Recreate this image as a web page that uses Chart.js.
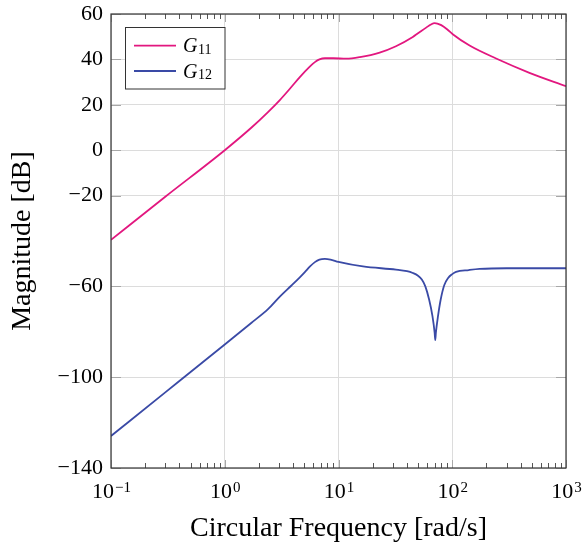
<!DOCTYPE html>
<html>
<head>
<meta charset="utf-8">
<script src="https://cdn.jsdelivr.net/npm/chart.js@4.4.1/dist/chart.umd.min.js"></script>
<style>
  html, body { margin: 0; padding: 0; background: #fff; }
  #wrap { width: 585px; height: 547px; }
</style>
</head>
<body>
<div id="wrap"><canvas id="bode" width="585" height="547"></canvas></div>
<script>
// magnitude, frequency in rad/s
const g11Freq = [0.1, 0.3, 1, 1.72, 2.4, 3.05, 3.8, 4.57, 5.59, 6.2, 6.8, 7.6, 9, 11.7, 15.4, 23, 32, 45, 59, 65, 70, 74, 80, 90, 101, 142, 243, 477, 1000];
const g11Mag  = [-39.5, -20.5, 0, 10, 16.8, 22.1, 27.5, 32.2, 36.8, 38.8, 40, 40.5, 40.5, 40.3, 41, 43, 45.8, 49.9, 54, 55.4, 56, 55.8, 55.1, 53.3, 51.1, 46.1, 40.4, 34.1, 28.2];

const g12Freq = [0.1, 0.3, 1, 1.72, 2.4, 3.05, 3.86, 4.57, 5.06, 5.59, 6.2, 6.8, 7.6, 8.5, 10, 16.4, 32, 40, 45, 50, 54, 58, 62.6, 67, 70, 70.9, 71.8, 75, 79, 85, 92, 100, 108, 140, 174, 300, 1000];
const g12Mag  = [-125.9, -106.7, -85.6, -76, -70, -64.5, -59.6, -56, -53.7, -51.3, -49.3, -48.2, -47.9, -48.2, -49.2, -51.2, -52.6, -53.3, -54.1, -55.3, -57, -60, -65.8, -73.1, -80.4, -83.7, -80.4, -73, -66, -59.5, -56.3, -54.6, -53.6, -52.8, -52.3, -52, -52];

const xMajor = [0.1, 1, 10, 100, 1000];
const xExp = ['−1', '0', '1', '2', '3'];
const yTicks = [60, 40, 20, 0, -20, -60, -100, -140];

const seriesNames = ['G', 'G'];
const seriesSubs = ['11', '12'];
const seriesColors = ['#e2177f', '#3a4aa6'];

const serif = "'Liberation Serif', 'Times New Roman', serif";

function pts(xs, ys) {
    return xs.map(function (x, i) { return { x: x, y: ys[i] }; });
}

// frame, minor ticks, x labels with superscripts, legend box
const decor = {
    id: 'decor',
    afterDatasetsDraw(chart) {
        const ctx = chart.ctx;
        const a = chart.chartArea;
        const xs = chart.scales.x;
        const ys = chart.scales.y;
        ctx.save();

        // y tick marks, both sides
        ctx.strokeStyle = '#a8a8a8';
        ctx.lineWidth = 1;
        yTicks.forEach(function (v) {
            const py = Math.round(ys.getPixelForValue(v)) + 0.5;
            ctx.beginPath();
            ctx.moveTo(a.left, py); ctx.lineTo(a.left + 10, py);
            ctx.moveTo(a.right, py); ctx.lineTo(a.right - 10, py);
            ctx.stroke();
        });

        // x major ticks
        xMajor.forEach(function (v) {
            const px = Math.round(xs.getPixelForValue(v)) + 0.5;
            ctx.beginPath();
            ctx.moveTo(px, a.top); ctx.lineTo(px, a.top + 8);
            ctx.moveTo(px, a.bottom); ctx.lineTo(px, a.bottom - 8);
            ctx.stroke();
        });

        // x minor ticks
        ctx.strokeStyle = '#555';
        for (let d = 0; d < 4; d++) {
            for (let m = 2; m <= 9; m++) {
                const v = xMajor[d] * m;
                const px = Math.round(xs.getPixelForValue(v)) + 0.5;
                ctx.beginPath();
                ctx.moveTo(px, a.top); ctx.lineTo(px, a.top + 5);
                ctx.moveTo(px, a.bottom); ctx.lineTo(px, a.bottom - 5);
                ctx.stroke();
            }
        }

        // frame
        ctx.strokeStyle = '#333';
        ctx.lineWidth = 1.2;
        ctx.strokeRect(a.left, a.top, a.right - a.left, a.bottom - a.top);

        // x tick labels 10^n
        ctx.fillStyle = '#000';
        ctx.textBaseline = 'alphabetic';
        ctx.textAlign = 'left';
        xMajor.forEach(function (v, i) {
            const px = xs.getPixelForValue(v);
            ctx.font = '22px ' + serif;
            const w1 = ctx.measureText('10').width;
            ctx.font = '15px ' + serif;
            const w2 = ctx.measureText(xExp[i]).width;
            const x0 = px - (w1 + w2) / 2;
            ctx.font = '22px ' + serif;
            ctx.fillText('10', x0, 498);
            ctx.font = '15px ' + serif;
            ctx.fillText(xExp[i], x0 + w1 + 1, 492);
        });

        // legend
        const lx = 125.5, ly = 27.5, lw = 99.5, lh = 61.5;
        ctx.fillStyle = '#fff';
        ctx.fillRect(lx, ly, lw, lh);
        ctx.strokeStyle = '#333';
        ctx.lineWidth = 1;
        ctx.strokeRect(lx, ly, lw, lh);
        const rows = [45.7, 71];
        rows.forEach(function (ry, i) {
            ctx.strokeStyle = seriesColors[i];
            ctx.lineWidth = 1.8;
            ctx.beginPath();
            ctx.moveTo(134, ry); ctx.lineTo(176, ry);
            ctx.stroke();
            ctx.fillStyle = '#000';
            ctx.font = 'italic 20px ' + serif;
            ctx.fillText(seriesNames[i], 183, ry + 6.6);
            const gw = ctx.measureText(seriesNames[i]).width;
            ctx.font = '14px ' + serif;
            ctx.fillText(seriesSubs[i], 183 + gw + 0.5, ry + 8);
        });

        ctx.restore();
    }
};

const ctx = document.getElementById('bode').getContext('2d');
const bode = new Chart(ctx, {
    type: 'line',
    data: {
        datasets: [{
            label: 'G11',
            data: pts(g11Freq, g11Mag),
            borderColor: seriesColors[0],
            borderWidth: 1.8,
            pointRadius: 0,
            cubicInterpolationMode: 'monotone',
            fill: false
        }, {
            label: 'G12',
            data: pts(g12Freq, g12Mag),
            borderColor: seriesColors[1],
            borderWidth: 1.8,
            pointRadius: 0,
            cubicInterpolationMode: 'monotone',
            fill: false
        }]
    },
    options: {
        responsive: false,
        animation: false,
        layout: { padding: { top: 14, right: 19, left: 0, bottom: 0 } },
        plugins: {
            legend: { display: false },
            tooltip: { enabled: false }
        },
        scales: {
            x: {
                type: 'logarithmic',
                min: 0.1,
                max: 1000,
                afterBuildTicks: function (axis) {
                    axis.ticks = xMajor.map(function (v) { return { value: v }; });
                },
                afterFit: function (axis) {
                    axis.height = 79;
                    axis.paddingLeft = 0;
                    axis.paddingRight = 0;
                },
                grid: { color: '#dcdcdc', lineWidth: 1, drawTicks: false },
                border: { display: false },
                ticks: { display: false },
                title: {
                    display: true,
                    text: 'Circular Frequency [rad/s]',
                    color: '#000',
                    font: { family: serif, size: 28 },
                    padding: 2
                }
            },
            y: {
                min: -140,
                max: 60,
                afterBuildTicks: function (axis) {
                    axis.ticks = yTicks.map(function (v) { return { value: v }; });
                },
                afterFit: function (axis) {
                    axis.width = 111;
                    axis.paddingTop = 0;
                    axis.paddingBottom = 0;
                },
                grid: { color: '#dcdcdc', lineWidth: 1, drawTicks: false },
                border: { display: false },
                ticks: {
                    autoSkip: false,
                    color: '#000',
                    padding: 8,
                    font: { family: serif, size: 22 },
                    callback: function (v) { return v < 0 ? '−' + Math.abs(v) : String(v); }
                },
                title: {
                    display: true,
                    text: 'Magnitude [dB]',
                    color: '#000',
                    font: { family: serif, size: 28 },
                    padding: 6
                }
            }
        }
    },
    plugins: [decor]
});
</script>
</body>
</html>
